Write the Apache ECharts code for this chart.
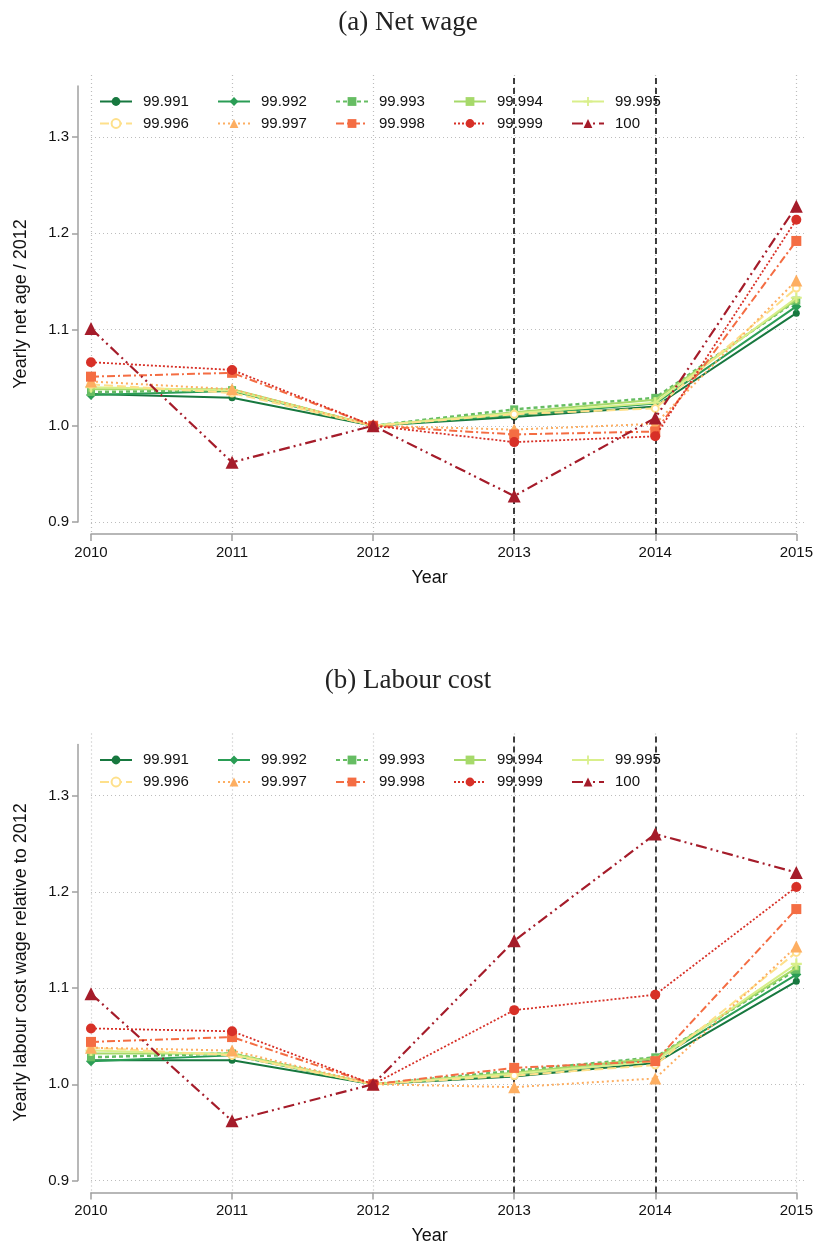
<!DOCTYPE html>
<html><head><meta charset="utf-8">
<script src="https://cdn.jsdelivr.net/npm/echarts@6/dist/echarts.min.js"></script>
<style>html,body{margin:0;padding:0;background:#fff}#c{width:816px;height:1248px}</style>
</head><body><div id="c"></div>
<script>
// ---------------- DATA ----------------
const years = ['2010', '2011', '2012', '2013', '2014', '2015'];
const seriesNames = ['99.991', '99.992', '99.993', '99.994', '99.995', '99.996', '99.997', '99.998', '99.999', '100'];
const yTickLabels = [0.9, 1.0, 1.1, 1.2, 1.3];
const markYears = ['2013', '2014'];

// (a) Net wage, relative to 2012
const net99991 = [1.033, 1.029, 1.000, 1.009, 1.020, 1.117];
const net99992 = [1.032, 1.036, 1.000, 1.011, 1.023, 1.124];
const net99993 = [1.035, 1.037, 1.000, 1.017, 1.029, 1.130];
const net99994 = [1.038, 1.038, 1.000, 1.014, 1.027, 1.131];
const net99995 = [1.040, 1.037, 1.000, 1.013, 1.024, 1.133];
const net99996 = [1.043, 1.034, 1.000, 1.012, 1.018, 1.143];
const net99997 = [1.046, 1.038, 1.000, 0.996, 1.002, 1.151];
const net99998 = [1.051, 1.055, 1.000, 0.991, 0.994, 1.192];
const net99999 = [1.066, 1.058, 1.000, 0.983, 0.989, 1.214];
const net100   = [1.101, 0.962, 1.000, 0.927, 1.008, 1.228];

// (b) Labour cost, relative to 2012
const lab99991 = [1.025, 1.025, 1.000, 1.008, 1.022, 1.107];
const lab99992 = [1.024, 1.030, 1.000, 1.010, 1.025, 1.114];
const lab99993 = [1.028, 1.032, 1.000, 1.014, 1.028, 1.119];
const lab99994 = [1.032, 1.032, 1.000, 1.012, 1.027, 1.121];
const lab99995 = [1.035, 1.031, 1.000, 1.011, 1.024, 1.125];
const lab99996 = [1.038, 1.030, 1.000, 1.009, 1.020, 1.137];
const lab99997 = [1.038, 1.035, 1.000, 0.997, 1.006, 1.143];
const lab99998 = [1.044, 1.049, 1.000, 1.017, 1.024, 1.182];
const lab99999 = [1.058, 1.055, 1.000, 1.077, 1.093, 1.205];
const lab100   = [1.094, 0.962, 1.000, 1.149, 1.260, 1.220];

const netSeries = [net99991, net99992, net99993, net99994, net99995, net99996, net99997, net99998, net99999, net100];
const labSeries = [lab99991, lab99992, lab99993, lab99994, lab99995, lab99996, lab99997, lab99998, lab99999, lab100];

// ---------------- STYLES ----------------
const PLUS = 'path://M4,0H6V4H10V6H6V10H4V6H0V4H4Z';
const styles = [
  {color: '#17783f', type: 'solid',        width: 2,   symbol: 'circle',      size: 7},
  {color: '#2a9d55', type: 'solid',        width: 2,   symbol: 'diamond',     size: 10},
  {color: '#66bd63', type: [4, 3],         width: 2.5, symbol: 'rect',        size: 8},
  {color: '#a6d96a', type: 'solid',        width: 2,   symbol: 'rect',        size: 5},
  {color: '#d9ef8b', type: 'solid',        width: 2,   symbol: PLUS,          size: 11},
  {color: '#fee08b', type: [9, 4],         width: 2,   symbol: 'emptyCircle', size: 7},
  {color: '#fdae61', type: [2, 3],         width: 2,   symbol: 'triangle',    size: 12},
  {color: '#f46d43', type: [8, 3, 2, 3],   width: 2,   symbol: 'rect',        size: 10},
  {color: '#d73027', type: [2, 2],         width: 1.8, symbol: 'circle',      size: 10},
  {color: '#a51c2a', type: [11, 4, 2, 4, 2, 4], width: 2.2, symbol: 'triangle', size: 13}
];

const panels = [
  {title: '(a) Net wage', yName: 'Yearly net age / 2012', data: netSeries, off: 0},
  {title: '(b) Labour cost', yName: 'Yearly labour cost wage relative to 2012', data: labSeries, off: 658.5}
];

// layout (pixels)
const tick13 = 137, tick09 = 522, plotTop = 75, xAxisY = 534, yLineTop = 86;
const pxPerUnit = (tick09 - tick13) / 0.4;
const dataMin = 0.9 - (xAxisY - tick09) / pxPerUnit;
const dataMax = 1.3 + (tick13 - plotTop) / pxPerUnit;

const FONT = 'Liberation Sans, Arial, sans-serif';
const AXIS_GRAY = '#a0a0a0';
const GRID_GRAY = '#bdbdbd';

const option = {
  animation: false,
  backgroundColor: '#fff',
  title: [], grid: [], xAxis: [], yAxis: [], legend: [], series: []
};

panels.forEach((p, pi) => {
  const o = p.off;
  option.title.push({
    text: p.title, left: 'center', top: 4 + o,
    textStyle: {fontFamily: 'Liberation Serif, DejaVu Serif, serif', fontSize: 27, fontWeight: 'normal', color: '#222'}
  });
  option.grid.push({left: 91, right: 19, top: plotTop + o, height: xAxisY - plotTop});
  option.grid.push({left: 91, right: 9, top: tick13 + o, height: tick09 - tick13});
  option.grid.push({left: 78, width: 1, top: yLineTop + o, height: tick09 - yLineTop});

  const gA = pi * 3, gB = pi * 3 + 1, gC = pi * 3 + 2;
  option.xAxis.push({
    gridIndex: gA, type: 'category', data: years, boundaryGap: false,
    name: 'Year', nameLocation: 'middle', nameGap: 35,
    nameTextStyle: {fontFamily: FONT, fontSize: 18, color: '#111', padding: [0, 28, 0, 0]},
    axisLine: {lineStyle: {color: AXIS_GRAY, width: 1.5}},
    axisTick: {show: true, length: 7, lineStyle: {color: AXIS_GRAY, width: 1.5}},
    axisLabel: {fontFamily: FONT, fontSize: 15, color: '#111', margin: 11},
    splitLine: {show: true, lineStyle: {color: GRID_GRAY, type: [1, 3], width: 1.2}}
  });
  option.xAxis.push({gridIndex: gB, type: 'category', data: years, boundaryGap: false, show: false});
  option.xAxis.push({gridIndex: gC, type: 'value', show: false});

  option.yAxis.push({
    gridIndex: gA, type: 'value', min: dataMin, max: dataMax, show: false, splitLine: {show: false}
  });
  option.yAxis.push({
    gridIndex: gB, type: 'value', min: yTickLabels[0], max: yTickLabels[yTickLabels.length - 1], interval: 0.1,
    offset: 13,
    axisLine: {show: false},
    axisTick: {show: true, length: 6, lineStyle: {color: AXIS_GRAY, width: 1.5}},
    axisLabel: {fontFamily: FONT, fontSize: 15, color: '#111', margin: 9, formatter: v => v.toFixed(1)},
    splitLine: {show: true, lineStyle: {color: GRID_GRAY, type: [1, 3], width: 1.2}}
  });
  option.yAxis.push({
    gridIndex: gC, type: 'value', min: 0, max: 1,
    name: p.yName, nameLocation: 'middle', nameGap: 48, nameRotate: 90,
    nameTextStyle: {fontFamily: FONT, fontSize: 18, color: '#111'},
    axisLine: {show: true, onZero: false, lineStyle: {color: AXIS_GRAY, width: 1.5}},
    axisTick: {show: false}, axisLabel: {show: false}, splitLine: {show: false}
  });

  for (let i = 0; i < 5; i++) {
    option.legend.push({
      orient: 'vertical', left: 94 + 118 * i, top: 89 + o,
      itemWidth: 32, itemHeight: 11, itemGap: 7,
      data: [seriesNames[i], seriesNames[i + 5]],
      textStyle: {fontFamily: FONT, fontSize: 15, color: '#111', padding: [0, 0, 0, 6]},
      selectedMode: false
    });
  }

  p.data.forEach((vals, k) => {
    const s = styles[k];
    const ser = {
      type: 'line', name: seriesNames[k], data: vals,
      xAxisIndex: gA, yAxisIndex: gA,
      symbol: s.symbol, symbolSize: s.size,
      lineStyle: {color: s.color, width: s.width, type: s.type},
      itemStyle: {color: s.color, borderWidth: s.symbol === 'emptyCircle' ? 1.5 : 0},
      z: 3 + k
    };
    if (k === 0) {
      ser.markLine = {
        silent: true, symbol: 'none', label: {show: false},
        lineStyle: {color: '#111', type: [6, 4], width: 1.6},
        data: markYears.map(y => ({xAxis: y}))
      };
    }
    option.series.push(ser);
  });
});

const chart = echarts.init(document.getElementById('c'), null, {renderer: 'canvas'});
chart.setOption(option);
</script></body></html>
